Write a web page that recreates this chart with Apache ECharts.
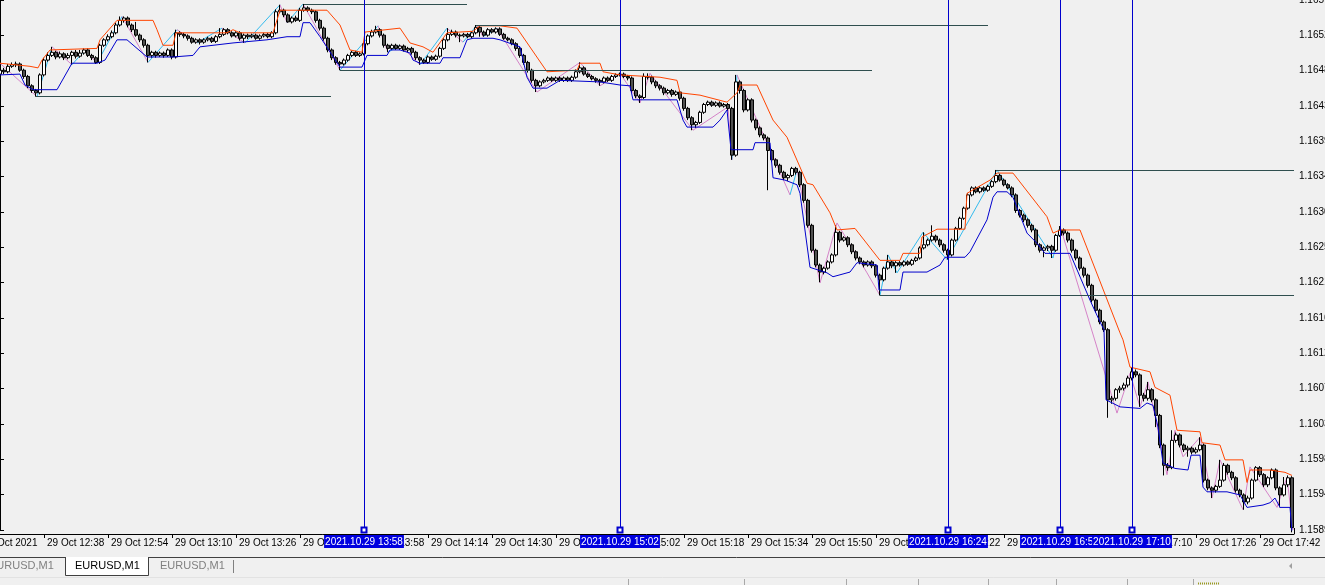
<!DOCTYPE html>
<html><head><meta charset="utf-8">
<script src="https://cdn.jsdelivr.net/npm/echarts@6/dist/echarts.min.js"></script>
<style>html,body{margin:0;padding:0;background:#f0f0f0;overflow:hidden}#c{width:1325px;height:585px}</style>
</head><body><div id="c"></div>
<script>
// ---------- DATA ----------
// one candle per minute, 12:27 .. 17:50 (index 0..323); 5 empty leading slots 12:22..12:26 for the date label
const firstMinute = 742, lastMinute = 1070, leadingEmpty = 5;
const xTickLabels = ['29 Oct 2021','29 Oct 12:38','29 Oct 12:54','29 Oct 13:10','29 Oct 13:26','29 Oct 13:42','29 Oct 13:58',
  '29 Oct 14:14','29 Oct 14:30','29 Oct 14:46','29 Oct 15:02','29 Oct 15:18','29 Oct 15:34','29 Oct 15:50','29 Oct 16:06',
  '29 Oct 16:22','29 Oct 16:38','29 Oct 16:54','29 Oct 17:10','29 Oct 17:26','29 Oct 17:42'];
const yTickLabels = ['1.1589','1.1594','1.1598','1.1603','1.1607','1.1612','1.1616','1.1621','1.1625','1.1630',
  '1.1634','1.1639','1.1643','1.1648','1.1652','1.1657'];

const opens = [
1.16475,1.16480,1.16478,1.16485,1.16487,1.16488,1.16480,1.16472,1.16460,1.16454,
1.16451,1.16474,1.16493,1.16499,1.16503,1.16497,1.16501,1.16496,1.16499,1.16503,
1.16498,1.16502,1.16506,1.16499,1.16496,1.16490,1.16512,1.16519,1.16523,1.16528,
1.16538,1.16544,1.16547,1.16538,1.16532,1.16525,1.16519,1.16512,1.16499,1.16503,
1.16499,1.16502,1.16499,1.16506,1.16497,1.16528,1.16526,1.16524,1.16521,1.16516,
1.16519,1.16516,1.16519,1.16521,1.16517,1.16523,1.16526,1.16532,1.16528,1.16524,
1.16528,1.16521,1.16525,1.16523,1.16525,1.16521,1.16524,1.16526,1.16523,1.16528,
1.16555,1.16557,1.16551,1.16542,1.16547,1.16544,1.16557,1.16560,1.16557,1.16555,
1.16544,1.16534,1.16521,1.16506,1.16496,1.16490,1.16488,1.16493,1.16499,1.16503,
1.16499,1.16501,1.16514,1.16524,1.16529,1.16532,1.16525,1.16512,1.16508,1.16512,
1.16508,1.16511,1.16506,1.16508,1.16503,1.16496,1.16493,1.16490,1.16497,1.16494,
1.16498,1.16508,1.16519,1.16526,1.16529,1.16525,1.16524,1.16526,1.16523,1.16528,
1.16535,1.16529,1.16525,1.16532,1.16529,1.16533,1.16526,1.16521,1.16519,1.16514,
1.16508,1.16499,1.16490,1.16480,1.16467,1.16460,1.16465,1.16467,1.16470,1.16467,
1.16470,1.16467,1.16470,1.16467,1.16471,1.16478,1.16483,1.16475,1.16472,1.16469,
1.16467,1.16465,1.16470,1.16467,1.16472,1.16474,1.16475,1.16472,1.16470,1.16454,
1.16447,1.16445,1.16472,1.16471,1.16465,1.16460,1.16457,1.16451,1.16454,1.16449,
1.16452,1.16444,1.16431,1.16419,1.16410,1.16413,1.16426,1.16436,1.16439,1.16435,
1.16438,1.16434,1.16436,1.16431,1.16371,1.16465,1.16454,1.16429,1.16442,1.16416,
1.16406,1.16397,1.16393,1.16377,1.16365,1.16358,1.16349,1.16342,1.16345,1.16354,
1.16349,1.16333,1.16313,1.16281,1.16249,1.16230,1.16221,1.16226,1.16234,1.16243,
1.16272,1.16262,1.16265,1.16256,1.16247,1.16239,1.16234,1.16230,1.16234,1.16229,
1.16217,1.16211,1.16226,1.16234,1.16229,1.16233,1.16230,1.16234,1.16231,1.16236,
1.16239,1.16252,1.16256,1.16262,1.16267,1.16262,1.16256,1.16249,1.16243,1.16262,
1.16277,1.16290,1.16303,1.16320,1.16329,1.16324,1.16329,1.16326,1.16331,1.16337,
1.16345,1.16339,1.16333,1.16329,1.16320,1.16300,1.16294,1.16288,1.16281,1.16275,
1.16256,1.16249,1.16252,1.16254,1.16249,1.16268,1.16275,1.16271,1.16262,1.16249,
1.16239,1.16226,1.16217,1.16204,1.16185,1.16172,1.16157,1.16147,1.16057,1.16059,
1.16070,1.16072,1.16076,1.16085,1.16093,1.16089,1.16063,1.16059,1.16070,1.16057,
1.16037,1.15999,1.15973,1.15970,1.16005,1.16012,1.15999,1.15993,1.15995,1.15990,
1.15993,1.15999,1.15954,1.15944,1.15941,1.15946,1.15954,1.15973,1.15964,1.15957,
1.15941,1.15935,1.15926,1.15931,1.15954,1.15970,1.15961,1.15948,1.15957,1.15967,
1.15944,1.15935,1.15948,1.15957];
const closes = [
1.16480,1.16478,1.16485,1.16487,1.16488,1.16480,1.16472,1.16460,1.16454,1.16451,
1.16474,1.16493,1.16499,1.16503,1.16497,1.16501,1.16496,1.16499,1.16503,1.16498,
1.16502,1.16506,1.16499,1.16496,1.16490,1.16512,1.16519,1.16523,1.16528,1.16538,
1.16544,1.16547,1.16538,1.16532,1.16525,1.16519,1.16512,1.16499,1.16503,1.16499,
1.16502,1.16499,1.16506,1.16497,1.16528,1.16526,1.16524,1.16521,1.16516,1.16519,
1.16516,1.16519,1.16521,1.16517,1.16523,1.16526,1.16532,1.16528,1.16524,1.16528,
1.16521,1.16525,1.16523,1.16525,1.16521,1.16524,1.16526,1.16523,1.16528,1.16555,
1.16557,1.16551,1.16542,1.16547,1.16544,1.16557,1.16560,1.16557,1.16555,1.16544,
1.16534,1.16521,1.16506,1.16496,1.16490,1.16488,1.16493,1.16499,1.16503,1.16499,
1.16501,1.16514,1.16524,1.16529,1.16532,1.16525,1.16512,1.16508,1.16512,1.16508,
1.16511,1.16506,1.16508,1.16503,1.16496,1.16493,1.16490,1.16497,1.16494,1.16498,
1.16508,1.16519,1.16526,1.16529,1.16525,1.16524,1.16526,1.16523,1.16528,1.16535,
1.16529,1.16525,1.16532,1.16529,1.16533,1.16526,1.16521,1.16519,1.16514,1.16508,
1.16499,1.16490,1.16480,1.16467,1.16460,1.16465,1.16467,1.16470,1.16467,1.16470,
1.16467,1.16470,1.16467,1.16471,1.16478,1.16483,1.16475,1.16472,1.16469,1.16467,
1.16465,1.16470,1.16467,1.16472,1.16474,1.16475,1.16472,1.16470,1.16454,1.16447,
1.16445,1.16472,1.16471,1.16465,1.16460,1.16457,1.16451,1.16454,1.16449,1.16452,
1.16444,1.16431,1.16419,1.16410,1.16413,1.16426,1.16436,1.16439,1.16435,1.16438,
1.16434,1.16436,1.16431,1.16371,1.16465,1.16454,1.16429,1.16442,1.16416,1.16406,
1.16397,1.16393,1.16377,1.16365,1.16358,1.16349,1.16342,1.16345,1.16354,1.16349,
1.16333,1.16313,1.16281,1.16249,1.16230,1.16221,1.16226,1.16234,1.16243,1.16272,
1.16262,1.16265,1.16256,1.16247,1.16239,1.16234,1.16230,1.16234,1.16229,1.16217,
1.16211,1.16226,1.16234,1.16229,1.16233,1.16230,1.16234,1.16231,1.16236,1.16239,
1.16252,1.16256,1.16262,1.16267,1.16262,1.16256,1.16249,1.16243,1.16262,1.16277,
1.16290,1.16303,1.16320,1.16329,1.16324,1.16329,1.16326,1.16331,1.16337,1.16345,
1.16339,1.16333,1.16329,1.16320,1.16300,1.16294,1.16288,1.16281,1.16275,1.16256,
1.16249,1.16252,1.16254,1.16249,1.16268,1.16275,1.16271,1.16262,1.16249,1.16239,
1.16226,1.16217,1.16204,1.16185,1.16172,1.16157,1.16147,1.16057,1.16059,1.16070,
1.16072,1.16076,1.16085,1.16093,1.16089,1.16063,1.16059,1.16070,1.16057,1.16037,
1.15999,1.15973,1.15970,1.16005,1.16012,1.15999,1.15993,1.15995,1.15990,1.15993,
1.15999,1.15954,1.15944,1.15941,1.15946,1.15954,1.15973,1.15964,1.15957,1.15941,
1.15935,1.15926,1.15931,1.15954,1.15970,1.15961,1.15948,1.15957,1.15967,1.15944,
1.15935,1.15948,1.15957,1.15893];
const highs = [
1.16483,1.16483,1.16488,1.16490,1.16491,1.16490,1.16482,1.16474,1.16462,1.16456,
1.16476,1.16496,1.16503,1.16510,1.16505,1.16504,1.16503,1.16502,1.16505,1.16506,
1.16506,1.16508,1.16508,1.16501,1.16498,1.16514,1.16521,1.16526,1.16531,1.16541,
1.16549,1.16549,1.16549,1.16540,1.16542,1.16527,1.16521,1.16514,1.16505,1.16505,
1.16504,1.16504,1.16508,1.16508,1.16532,1.16530,1.16528,1.16526,1.16523,1.16521,
1.16521,1.16521,1.16523,1.16523,1.16525,1.16534,1.16534,1.16534,1.16530,1.16530,
1.16530,1.16527,1.16527,1.16527,1.16527,1.16526,1.16528,1.16528,1.16530,1.16558,
1.16564,1.16559,1.16553,1.16549,1.16550,1.16560,1.16565,1.16562,1.16559,1.16557,
1.16546,1.16536,1.16523,1.16508,1.16498,1.16492,1.16495,1.16501,1.16505,1.16505,
1.16503,1.16516,1.16526,1.16532,1.16537,1.16534,1.16527,1.16514,1.16514,1.16514,
1.16513,1.16513,1.16510,1.16510,1.16505,1.16498,1.16495,1.16499,1.16499,1.16500,
1.16510,1.16521,1.16534,1.16532,1.16531,1.16527,1.16528,1.16528,1.16530,1.16538,
1.16537,1.16531,1.16534,1.16534,1.16535,1.16535,1.16528,1.16523,1.16521,1.16516,
1.16510,1.16501,1.16492,1.16482,1.16469,1.16467,1.16469,1.16472,1.16472,1.16472,
1.16472,1.16472,1.16472,1.16473,1.16481,1.16490,1.16485,1.16477,1.16474,1.16471,
1.16469,1.16472,1.16472,1.16474,1.16476,1.16477,1.16477,1.16474,1.16472,1.16456,
1.16449,1.16476,1.16476,1.16473,1.16467,1.16462,1.16459,1.16456,1.16456,1.16454,
1.16454,1.16446,1.16433,1.16421,1.16415,1.16428,1.16438,1.16441,1.16441,1.16440,
1.16440,1.16438,1.16438,1.16433,1.16474,1.16467,1.16456,1.16444,1.16444,1.16418,
1.16408,1.16399,1.16395,1.16379,1.16367,1.16360,1.16351,1.16347,1.16356,1.16356,
1.16351,1.16335,1.16315,1.16283,1.16251,1.16232,1.16228,1.16236,1.16245,1.16281,
1.16274,1.16267,1.16267,1.16258,1.16249,1.16241,1.16236,1.16236,1.16236,1.16231,
1.16219,1.16228,1.16243,1.16236,1.16235,1.16235,1.16236,1.16236,1.16238,1.16241,
1.16254,1.16272,1.16264,1.16281,1.16269,1.16264,1.16258,1.16251,1.16264,1.16279,
1.16292,1.16305,1.16322,1.16331,1.16331,1.16331,1.16331,1.16333,1.16339,1.16352,
1.16347,1.16341,1.16335,1.16331,1.16322,1.16302,1.16296,1.16290,1.16283,1.16277,
1.16258,1.16254,1.16256,1.16256,1.16270,1.16280,1.16277,1.16273,1.16264,1.16251,
1.16241,1.16228,1.16219,1.16206,1.16187,1.16174,1.16159,1.16149,1.16062,1.16072,
1.16075,1.16079,1.16088,1.16099,1.16096,1.16091,1.16066,1.16080,1.16072,1.16059,
1.16039,1.16001,1.15976,1.16018,1.16015,1.16014,1.16001,1.15998,1.15997,1.15996,
1.16009,1.16001,1.15956,1.15946,1.15948,1.15980,1.15976,1.15975,1.15966,1.15959,
1.15943,1.15937,1.15934,1.15956,1.15972,1.15972,1.15963,1.15959,1.15969,1.15969,
1.15946,1.15958,1.15960,1.15959];
const lows = [
1.16472,1.16475,1.16476,1.16483,1.16484,1.16478,1.16469,1.16457,1.16451,1.16446,
1.16449,1.16472,1.16491,1.16497,1.16494,1.16495,1.16493,1.16494,1.16487,1.16495,
1.16496,1.16500,1.16497,1.16493,1.16488,1.16488,1.16510,1.16517,1.16521,1.16526,
1.16536,1.16541,1.16535,1.16529,1.16523,1.16516,1.16509,1.16490,1.16496,1.16496,
1.16497,1.16496,1.16497,1.16494,1.16495,1.16523,1.16521,1.16518,1.16514,1.16514,
1.16513,1.16514,1.16517,1.16515,1.16515,1.16521,1.16524,1.16526,1.16522,1.16522,
1.16518,1.16515,1.16520,1.16521,1.16519,1.16519,1.16522,1.16521,1.16521,1.16526,
1.16553,1.16548,1.16541,1.16540,1.16542,1.16542,1.16555,1.16555,1.16552,1.16541,
1.16531,1.16518,1.16503,1.16493,1.16487,1.16480,1.16486,1.16491,1.16497,1.16497,
1.16497,1.16499,1.16512,1.16522,1.16527,1.16522,1.16509,1.16503,1.16506,1.16506,
1.16506,1.16504,1.16503,1.16500,1.16493,1.16487,1.16488,1.16488,1.16492,1.16492,
1.16496,1.16506,1.16517,1.16524,1.16522,1.16516,1.16522,1.16521,1.16521,1.16526,
1.16523,1.16523,1.16523,1.16527,1.16527,1.16524,1.16519,1.16517,1.16512,1.16505,
1.16496,1.16487,1.16477,1.16464,1.16452,1.16458,1.16463,1.16465,1.16465,1.16465,
1.16465,1.16465,1.16465,1.16465,1.16469,1.16476,1.16473,1.16470,1.16467,1.16464,
1.16460,1.16463,1.16465,1.16465,1.16470,1.16472,1.16470,1.16467,1.16451,1.16444,
1.16438,1.16443,1.16468,1.16462,1.16457,1.16454,1.16448,1.16449,1.16446,1.16447,
1.16441,1.16428,1.16416,1.16403,1.16406,1.16411,1.16424,1.16434,1.16433,1.16433,
1.16432,1.16432,1.16428,1.16365,1.16369,1.16450,1.16426,1.16427,1.16413,1.16403,
1.16394,1.16390,1.16326,1.16362,1.16355,1.16346,1.16339,1.16338,1.16343,1.16346,
1.16330,1.16310,1.16278,1.16246,1.16227,1.16208,1.16218,1.16224,1.16232,1.16241,
1.16259,1.16260,1.16253,1.16244,1.16236,1.16231,1.16227,1.16228,1.16226,1.16214,
1.16191,1.16209,1.16224,1.16226,1.16220,1.16228,1.16228,1.16229,1.16229,1.16234,
1.16237,1.16250,1.16254,1.16260,1.16259,1.16253,1.16246,1.16237,1.16241,1.16260,
1.16275,1.16288,1.16301,1.16318,1.16322,1.16322,1.16324,1.16324,1.16329,1.16335,
1.16337,1.16331,1.16327,1.16317,1.16297,1.16291,1.16285,1.16278,1.16272,1.16253,
1.16246,1.16240,1.16248,1.16239,1.16247,1.16266,1.16268,1.16259,1.16246,1.16236,
1.16223,1.16214,1.16201,1.16182,1.16169,1.16154,1.16144,1.16034,1.16052,1.16056,
1.16066,1.16069,1.16073,1.16082,1.16086,1.16048,1.16055,1.16056,1.16054,1.16022,
1.15995,1.15960,1.15966,1.15968,1.16002,1.15996,1.15990,1.15984,1.15987,1.15988,
1.15991,1.15951,1.15941,1.15931,1.15938,1.15944,1.15952,1.15961,1.15954,1.15938,
1.15932,1.15916,1.15923,1.15929,1.15952,1.15958,1.15945,1.15945,1.15955,1.15941,
1.15919,1.15933,1.15945,1.15887];

// indicator polylines: [candle index, price]
const orangeLine = [[0,1.16489],[7.5,1.16485],[9.5,1.16483],[10.5,1.16493],[12.5,1.16506],[24.25,1.16508],[25,1.16519],
 [29.25,1.16544],[38.25,1.16544],[39.25,1.16532],[40.75,1.16512],[43.25,1.16512],[44,1.16528],[56.75,1.16528],[58.25,1.16532],
 [60,1.16528],[68.25,1.16528],[70,1.16557],[81.75,1.16557],[85,1.16538],[87.5,1.16506],[90.5,1.16503],[91.25,1.16529],
 [100,1.16534],[102.5,1.16515],[105.75,1.16510],[108.25,1.16503],[111.75,1.16528],[118.25,1.16530],[120,1.16537],[125,1.16537],
 [129.25,1.16534],[136.75,1.16478],[144.25,1.16480],[145,1.16489],[150,1.16489],[150.75,1.16478],[155,1.16474],[165,1.16471],
 [169.25,1.16467],[170,1.16451],[175,1.16448],[181.75,1.16439],[184.25,1.16451],[185,1.16461],[189.25,1.16461],[193.25,1.16416],
 [196.75,1.16394],[201.75,1.16335],[203.25,1.16333],[207.5,1.16297],[209.25,1.16275],[213.75,1.16277],[220,1.16236],[225,1.16236],
 [225.75,1.16245],[230,1.16245],[230.5,1.16266],[234.25,1.16276],[241.25,1.16276],[241.75,1.16322],[247.5,1.16339],[249.25,1.16348],
 [253.25,1.16348],[261.75,1.16292],[263.25,1.16271],[265,1.16275],[270,1.16275],[280,1.16143],[280.75,1.16134],[282.5,1.16099],
 [287.5,1.16093],[288.75,1.16073],[292.5,1.16063],[294.25,1.16018],[300,1.16016],[300.5,1.16002],[305,1.15999],[306.25,1.15980],
 [310.75,1.15980],[311.75,1.15951],[312.5,1.15967],[317.5,1.15967],[321.25,1.15964],[323,1.15960]];
const blueLine = [[0,1.16474],[5,1.16475],[6.25,1.16461],[8.25,1.16455],[14.25,1.16455],[18,1.16489],[24.25,1.16489],[26.25,1.16493],
 [29.25,1.16519],[31.75,1.16519],[36.75,1.16497],[43.25,1.16497],[48.25,1.16499],[50,1.16510],[58.25,1.16515],[66.75,1.16519],
 [71.75,1.16523],[75,1.16523],[75.75,1.16541],[77.5,1.16541],[80,1.16523],[85,1.16484],[90.5,1.16484],[91.75,1.16499],
 [96.75,1.16499],[97.5,1.16506],[100,1.16506],[102.5,1.16502],[103.25,1.16493],[105,1.16489],[110,1.16489],[110.75,1.16496],
 [115,1.16496],[116.75,1.16519],[118.25,1.16521],[123.25,1.16521],[125,1.16519],[130,1.16510],[131.75,1.16471],[133.25,1.16457],
 [136.75,1.16457],[140,1.16467],[150,1.16465],[155,1.16461],[157.5,1.16460],[158.25,1.16442],[169.25,1.16442],[170.75,1.16416],
 [171.75,1.16407],[178.25,1.16407],[180,1.16416],[181.75,1.16429],[182.75,1.16378],[188.25,1.16378],[188.75,1.16387],[192.5,1.16387],
 [193.25,1.16342],[196.25,1.16339],[199.25,1.16333],[200,1.16322],[202.5,1.16227],[206.75,1.16220],[208.25,1.16215],[212.5,1.16221],
 [214.25,1.16233],[219.25,1.16230],[219.75,1.16198],[225,1.16198],[225.75,1.16221],[231.75,1.16221],[235,1.16230],[236.25,1.16240],
 [241.25,1.16240],[242.5,1.16247],[246.75,1.16288],[248.25,1.16317],[249.25,1.16324],[251.75,1.16324],[253.25,1.16317],[256.75,1.16271],
 [259.25,1.16258],[261.25,1.16245],[267.5,1.16245],[272.5,1.16185],[275,1.16157],[276,1.16147],[276.5,1.16057],[280,1.16048],
 [285,1.16046],[286.75,1.16053],[288.25,1.16050],[289.5,1.16022],[290.75,1.15976],[293.75,1.15969],[297,1.15967],[297.75,1.15986],
 [300,1.15986],[300.75,1.15945],[301.75,1.15939],[306.75,1.15939],[310,1.15935],[311.75,1.15919],[315.75,1.15922],[317.5,1.15925],
 [318.75,1.15931],[320,1.15919],[322.5,1.15919],[323,1.15887]];

// zigzag legs
const cyanLegs = [
 [[9.25,1.16446],[13,1.16510]], [[18,1.16487],[21.25,1.16506]], [[24.25,1.16489],[30.5,1.16549]],
 [[37,1.16490],[44.25,1.16532]], [[49.25,1.16515],[55.5,1.16534]], [[61.25,1.16515],[70,1.16564]],
 [[71.75,1.16541],[75.75,1.16565]], [[85,1.16480],[94.5,1.16537]], [[97,1.16503],[100,1.16512]],
 [[105,1.16487],[111.75,1.16534]], [[115.75,1.16516],[119.25,1.16538]], [[120.75,1.16523],[124.25,1.16534]],
 [[183,1.16365],[184.25,1.16474]], [[197.5,1.16320],[199.25,1.16352]],
 [[220,1.16191],[222,1.16243],[224.25,1.16220],[230.75,1.16272],[236.75,1.16237],[249.25,1.16352],[263.25,1.16239],[265,1.16280]]];
const pinkLegs = [
 [[0,1.16489],[9.25,1.16446]], [[13,1.16510],[18,1.16487]], [[21.25,1.16506],[24.25,1.16489]],
 [[30.5,1.16549],[37,1.16490]], [[44.25,1.16532],[49.25,1.16515]], [[55.5,1.16534],[61.25,1.16515]],
 [[70,1.16564],[71.75,1.16541]], [[75.75,1.16565],[85,1.16480]], [[94.5,1.16537],[97,1.16503]],
 [[100,1.16512],[105,1.16487]], [[111.75,1.16534],[115.75,1.16516]], [[119.25,1.16538],[120.75,1.16523]],
 [[124.25,1.16534],[134.25,1.16452],[145,1.16490],[150,1.16460],[155,1.16476],[160,1.16438],[162.5,1.16476],[173.25,1.16403],[182,1.16433],[183,1.16365]],
 [[184.25,1.16474],[197.5,1.16320]],
 [[199.25,1.16352],[205,1.16207],[209.25,1.16284],[216.75,1.16220],[220,1.16191]],
 [[265,1.16280],[279.25,1.16040],[282.5,1.16091],[285,1.16048],[287,1.16080],[291.75,1.15961],[293.75,1.16018],[295.75,1.15984],
  [300,1.16009],[303,1.15931],[305,1.15980],[310.75,1.15916],[312.5,1.15971],[319.25,1.15919],[321.75,1.15958],[323.25,1.15890]]];

// horizontal objects: [from index, to index, price]
const hLines = [[9,82.75,1.16446],[76,116.75,1.16565],[85,218,1.16480],[119,247,1.16538],[249,323.5,1.16352],[220,323.5,1.16191]];
// vertical objects: [candle index, label]
const vLines = [[91,'2021.10.29 13:58'],[155,'2021.10.29 15:02'],[237,'2021.10.29 16:24'],[265,'2021.10.29 16:52'],[283,'2021.10.29 17:10']];

// ---------- BUILD ----------
const categories = [];
for (let m = firstMinute; m <= lastMinute; m++) {
  categories.push(String(Math.floor(m / 60)).padStart(2, '0') + ':' + String(m % 60).padStart(2, '0'));
}
const candleData = [];
for (let k = 0; k < leadingEmpty; k++) candleData.push(['-', '-', '-', '-']);
for (let i = 0; i < closes.length; i++) candleData.push([opens[i], closes[i], lows[i], highs[i]]);

const Y_MIN = 1.1589;
const Y_STEP = 1.1589 / 2556;
const Y_MAX = Y_MIN + 15 * Y_STEP;
const FONT = 'Liberation Sans';

const markData = [];
hLines.forEach(h => markData.push([
  {coord: [h[0], h[2]], lineStyle: {color: '#2F4F4F', width: 1, type: 'solid'}, label: {show: false}},
  {coord: [h[1], h[2]]}]));
vLines.forEach(v => markData.push([
  {coord: [v[0], Y_MIN], name: v[1], symbol: 'emptyRect', symbolSize: 5,
   lineStyle: {color: '#0000CD', width: 1, type: 'solid'},
   label: {show: true, position: 'start', formatter: '{b}', color: '#ffffff', backgroundColor: '#0000E0',
           fontFamily: FONT, fontSize: 10, padding: [2, 1, 1, 1], distance: 5}},
  {coord: [v[0], Y_MAX - 1e-7], symbol: 'none'}]));

const chart = echarts.init(document.getElementById('c'), null, {renderer: 'canvas'});
chart.setOption({
  animation: false,
  backgroundColor: '#f0f0f0',
  textStyle: {fontFamily: FONT},
  grid: {left: -22, right: 31, top: 0, bottom: 55, containLabel: false, outerBoundsMode: 'none'},
  xAxis: [{
    type: 'category', data: categories, boundaryGap: true, offset: 4,
    axisLine: {show: true, lineStyle: {color: '#000', width: 1}},
    axisTick: {show: true, length: 4, alignWithLabel: true, interval: (i) => i % 16 === 0, lineStyle: {color: '#000'}},
    axisLabel: {show: true, interval: (i) => i % 16 === 0, align: 'left', margin: 4, padding: [0, 0, 0, 3],
      color: '#000', fontFamily: FONT, fontSize: 10, hideOverlap: false,
      formatter: (val, idx) => (idx % 16 === 0 ? (xTickLabels[idx / 16] || '') : '')},
    splitLine: {show: false}
  }, {
    type: 'value', min: -leadingEmpty - 0.5, max: closes.length - 0.5, show: false
  }],
  yAxis: [{
    type: 'value', position: 'right', min: Y_MIN, max: Y_MAX, interval: Y_STEP,
    axisLine: {show: true, lineStyle: {color: '#000', width: 1}},
    axisTick: {show: true, length: 4, lineStyle: {color: '#000'}},
    axisLabel: {show: true, margin: 5, color: '#000', fontFamily: FONT, fontSize: 10, hideOverlap: false,
      width: 60, overflow: 'none',
      formatter: (v) => yTickLabels[Math.round((v - Y_MIN) / Y_STEP)] || ''},
    splitLine: {show: false}
  }],
  series: [{
    type: 'candlestick', xAxisIndex: 0, yAxisIndex: 0, data: candleData, barWidth: 3, clip: false,
    itemStyle: {color: '#ffffff', color0: '#505050', borderColor: '#000000', borderColor0: '#000000', borderWidth: 1}
  }, {
    type: 'line', xAxisIndex: 1, yAxisIndex: 0, data: orangeLine, symbol: 'none', silent: true,
    lineStyle: {color: '#FF4500', width: 1}
  }, {
    type: 'line', xAxisIndex: 1, yAxisIndex: 0, data: blueLine, symbol: 'none', silent: true,
    lineStyle: {color: '#0000CD', width: 1}
  }, {
    type: 'lines', coordinateSystem: 'cartesian2d', xAxisIndex: 1, yAxisIndex: 0, polyline: true, silent: true,
    data: cyanLegs.map(c => ({coords: c})), lineStyle: {color: '#33BBEE', width: 1, opacity: 1}
  }, {
    type: 'lines', coordinateSystem: 'cartesian2d', xAxisIndex: 1, yAxisIndex: 0, polyline: true, silent: true,
    data: pinkLegs.map(c => ({coords: c})), lineStyle: {color: '#D583C8', width: 1, opacity: 1}
  }, {
    type: 'line', xAxisIndex: 1, yAxisIndex: 0, data: [[0, 1.162]], symbol: 'none', silent: true,
    lineStyle: {opacity: 0},
    markLine: {silent: true, animation: false, symbol: ['none', 'none'], data: markData}
  }],
  graphic: [
    {type: 'line', shape: {x1: 1294.5, y1: 528, x2: 1294.5, y2: 534}, style: {stroke: '#000', lineWidth: 1}, silent: true},
    {type: 'line', shape: {x1: 0, y1: 557.5, x2: 66, y2: 557.5}, style: {stroke: '#404040', lineWidth: 1}, silent: true},
    {type: 'line', shape: {x1: 148, y1: 557.5, x2: 1325, y2: 557.5}, style: {stroke: '#404040', lineWidth: 1}, silent: true},
    {type: 'rect', shape: {x: 66, y: 557, width: 82, height: 18}, style: {fill: '#ffffff'}, silent: true},
    {type: 'polyline', shape: {points: [[65.5, 557], [65.5, 575.5], [148.5, 575.5], [148.5, 557]]}, style: {stroke: '#404040', fill: null, lineWidth: 1}, silent: true},
    {type: 'text', x: -11, y: 566, style: {text: 'EURUSD,M1', fill: '#808080', font: '11px "Liberation Sans"', verticalAlign: 'middle'}, silent: true},
    {type: 'text', x: 75, y: 566, style: {text: 'EURUSD,M1', fill: '#000000', font: '11px "Liberation Sans"', verticalAlign: 'middle'}, silent: true},
    {type: 'text', x: 160, y: 566, style: {text: 'EURUSD,M1', fill: '#808080', font: '11px "Liberation Sans"', verticalAlign: 'middle'}, silent: true},
    {type: 'line', shape: {x1: 233.5, y1: 560, x2: 233.5, y2: 573}, style: {stroke: '#808080', lineWidth: 1}, silent: true},
    {type: 'polygon', shape: {points: [[1292, 563], [1292, 569], [1289, 566]]}, style: {fill: '#a0a0a0'}, silent: true},
    {type: 'line', shape: {x1: 0, y1: 577.5, x2: 1325, y2: 577.5}, style: {stroke: '#e2e2e2', lineWidth: 1}, silent: true},
    {type: 'line', shape: {x1: 628.5, y1: 579, x2: 628.5, y2: 585}, style: {stroke: '#a8a8a8', lineWidth: 1}, silent: true},
    {type: 'line', shape: {x1: 744.5, y1: 579, x2: 744.5, y2: 585}, style: {stroke: '#a8a8a8', lineWidth: 1}, silent: true},
    {type: 'line', shape: {x1: 846.5, y1: 579, x2: 846.5, y2: 585}, style: {stroke: '#a8a8a8', lineWidth: 1}, silent: true},
    {type: 'line', shape: {x1: 918.5, y1: 579, x2: 918.5, y2: 585}, style: {stroke: '#a8a8a8', lineWidth: 1}, silent: true},
    {type: 'line', shape: {x1: 988.5, y1: 579, x2: 988.5, y2: 585}, style: {stroke: '#a8a8a8', lineWidth: 1}, silent: true},
    {type: 'line', shape: {x1: 1056.5, y1: 579, x2: 1056.5, y2: 585}, style: {stroke: '#a8a8a8', lineWidth: 1}, silent: true},
    {type: 'line', shape: {x1: 1127.5, y1: 579, x2: 1127.5, y2: 585}, style: {stroke: '#a8a8a8', lineWidth: 1}, silent: true},
    {type: 'line', shape: {x1: 1193.5, y1: 579, x2: 1193.5, y2: 585}, style: {stroke: '#a8a8a8', lineWidth: 1}, silent: true},
    {type: 'line', shape: {x1: 1198, y1: 583.5, x2: 1220, y2: 583.5}, style: {stroke: '#9a9a20', lineWidth: 2, lineDash: [1, 1]}, silent: true}
  ]
});
</script>
</body></html>
